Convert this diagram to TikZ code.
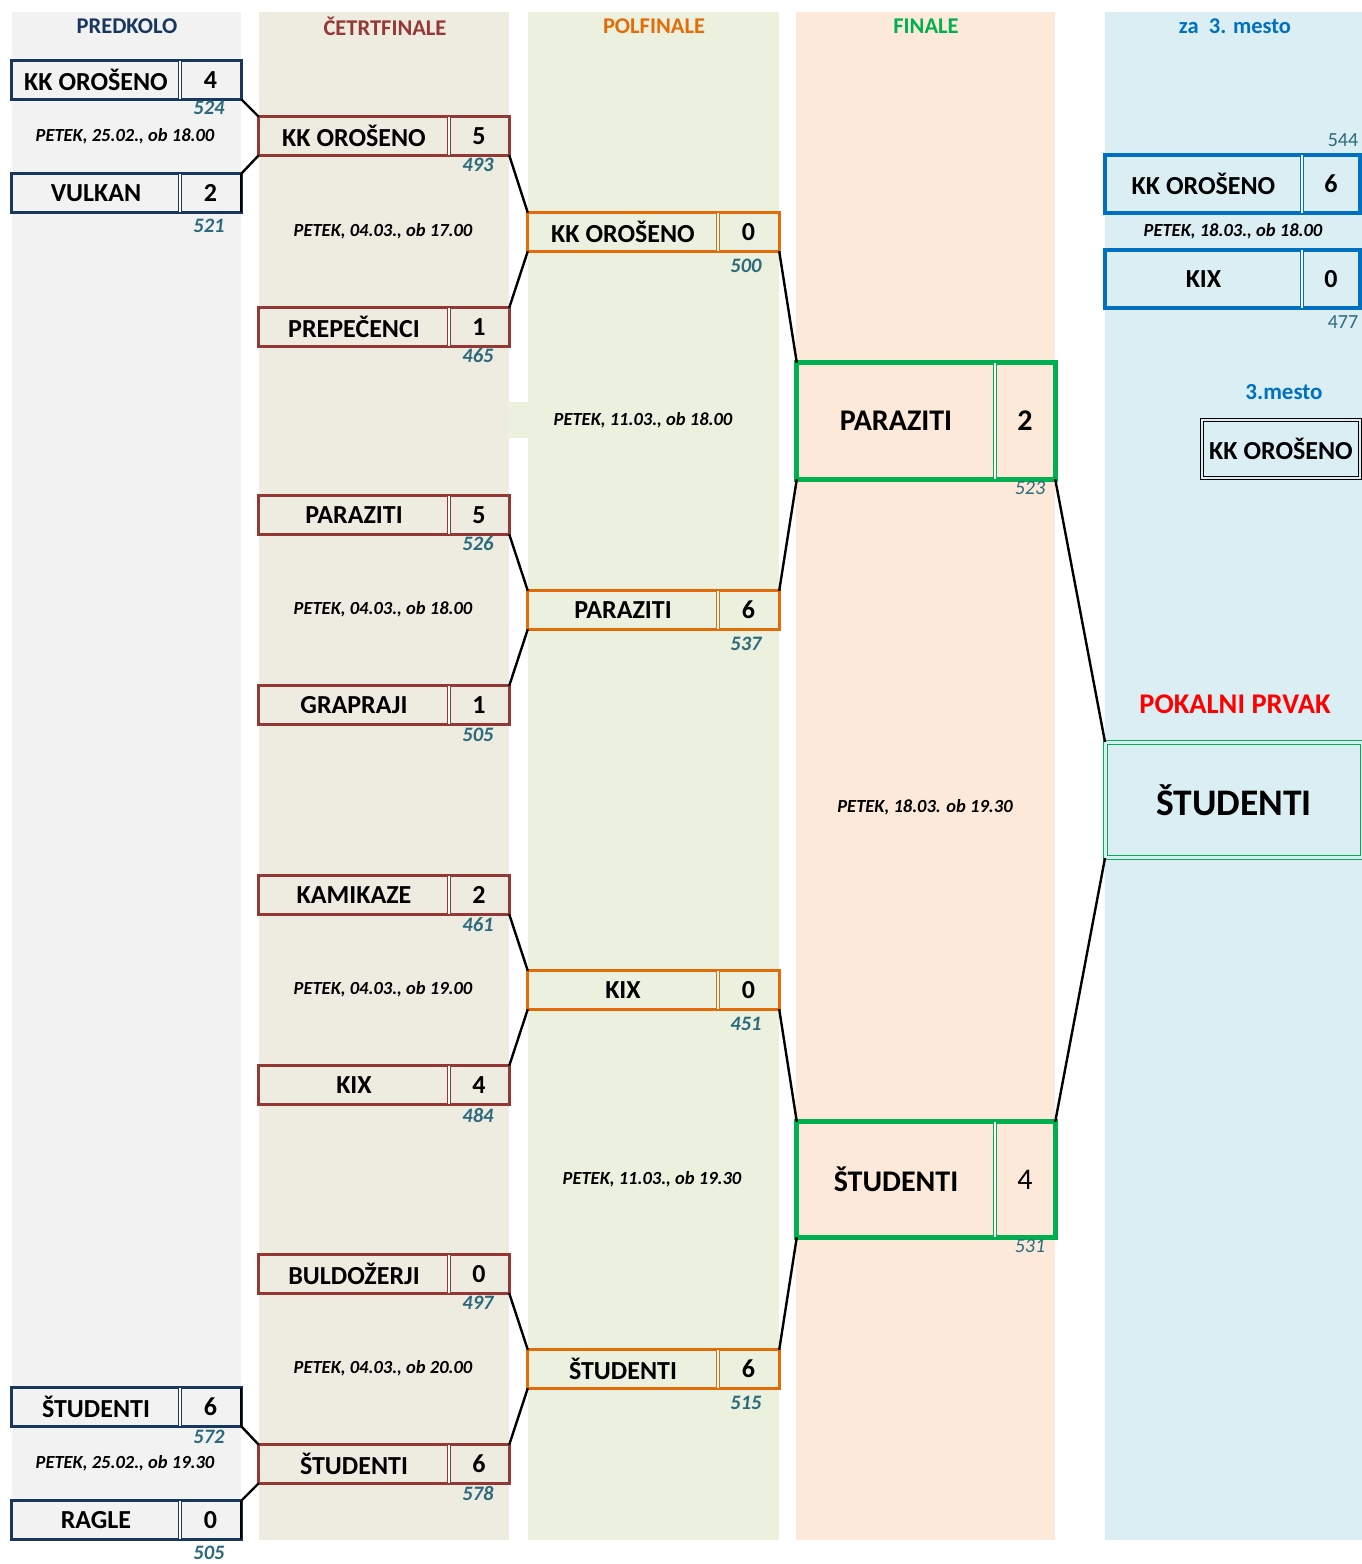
\documentclass[tikz,border=0pt]{standalone}
\usepackage{fontspec}
\setmainfont{Carlito}
\definecolor{cgray}{HTML}{F2F2F2}
\definecolor{cbeige}{HTML}{EEECE1}
\definecolor{cgreenbg}{HTML}{EBF1DE}
\definecolor{cpeach}{HTML}{FDE9D9}
\definecolor{cblue}{HTML}{DAEEF3}
\definecolor{navy}{HTML}{17375E}
\definecolor{dred}{HTML}{953735}
\definecolor{orng}{HTML}{E36C09}
\definecolor{grn}{HTML}{00B050}
\definecolor{blu}{HTML}{0070C0}
\definecolor{teal}{HTML}{2B6A7C}
\newcommand\fs[1]{\fontsize{#1}{#1}\selectfont}
\newcommand\tbox[9]{%
 \node[cell, minimum width={#4-#3}, minimum height=#7] (#1) at ({(#3+#4)/2},{#6+#7/2}) {#8};
 \node[cell, minimum width={#5-#4}, minimum height=#7] (#1s) at ({(#4+#5)/2},{#6+#7/2}) {#9};
 \draw[#2] (#1.north west) rectangle (#1s.south east);
 \draw[#2, line width=0.8pt, double=white, double distance=2pt] (#1.north east) -- (#1.south east);
}
\begin{document}
\begin{tikzpicture}[x=1pt,y=-1pt,
  cell/.style={inner sep=0pt, font=\bfseries\fs{26}},
  bnavy/.style={draw=navy, line width=3pt},
  bred/.style={draw=dred, line width=3pt},
  borng/.style={draw=orng, line width=3pt},
  bgrn/.style={draw=grn, line width=5pt},
  bblu/.style={draw=blu, line width=4.5pt},
  pts/.style={text=teal, font=\bfseries\itshape\fs{20.5}},
  ptsn/.style={text=teal, font=\itshape\fs{20}},
  date/.style={font=\bfseries\itshape\fs{18.5}},
  head/.style={font=\bfseries\fs{22.5}},
  conn/.style={draw=black, line width=2.4pt}]
\useasboundingbox (0,0) rectangle (1362,1564);
% column backgrounds
\fill[cgray] (12,12) rectangle (241,1540);
\fill[cbeige] (259,12) rectangle (509,1540);
\fill[cgreenbg] (528,12) rectangle (779,1540);
\fill[cgreenbg] (509,402) rectangle (528,438);
\fill[cpeach] (796,12) rectangle (1055,1540);
\fill[cblue] (1105,12) rectangle (1362,1540);
% headers
\node[head, text=navy] (h1) at (127,26) {PREDKOLO};
\node[head, text=dred] (h2) at (385,26) {ČETRTFINALE};
\node[head, text=orng] (h3) at (654,26) {POLFINALE};
\node[head, text=grn] (h4) at (926,26) {FINALE};
\node[head, text=blu] (h5) at (1235,26) {za\ \ 3. mesto};
% predkolo
\tbox{pa}{bnavy}{12}{180}{241}{61}{38}{KK OROŠENO}{4}
\tbox{pb}{bnavy}{12}{180}{241}{174}{38}{VULKAN}{2}
\tbox{pc}{bnavy}{12}{180}{241}{1388}{38}{ŠTUDENTI}{6}
\tbox{pd}{bnavy}{12}{180}{241}{1501}{38}{RAGLE}{0}
\draw[line width=2.5pt] (pbs.north east) -- (pbs.south east);
\draw[line width=2.5pt] (pcs.north east) -- (pcs.south east);
\draw[line width=2.5pt] (pds.north east) -- (pds.south east);
\node[pts] (lpa) at (209,108) {524};
\node[pts] (lpb) at (209,226) {521};
\node[pts] (lpc) at (209,1437) {572};
\node[pts] (lpd) at (209,1553) {505};
\node[date] (dp1) at (125,136) {PETEK, 25.02., ob 18.00};
\node[date] (dp2) at (125,1463) {PETEK, 25.02., ob 19.30};
% cetrtfinale
\tbox{q1}{bred}{259}{449}{509}{117}{38}{KK OROŠENO}{5}
\tbox{q2}{bred}{259}{449}{509}{308}{38}{PREPEČENCI}{1}
\tbox{q3}{bred}{259}{449}{509}{496}{38}{PARAZITI}{5}
\tbox{q4}{bred}{259}{449}{509}{686}{38}{GRAPRAJI}{1}
\tbox{q5}{bred}{259}{449}{509}{876}{38}{KAMIKAZE}{2}
\tbox{q6}{bred}{259}{449}{509}{1066}{38}{KIX}{4}
\tbox{q7}{bred}{259}{449}{509}{1255}{38}{BULDOŽERJI}{0}
\tbox{q8}{bred}{259}{449}{509}{1445}{38}{ŠTUDENTI}{6}
\node[pts] (lq1) at (478,165) {493};
\node[pts] (lq2) at (478,356) {465};
\node[pts] (lq3) at (478,544) {526};
\node[pts] (lq4) at (478,735) {505};
\node[pts] (lq5) at (478,925) {461};
\node[pts] (lq6) at (478,1115) {484};
\node[pts] (lq7) at (478,1303) {497};
\node[pts] (lq8) at (478,1493) {578};
\node[date] (dq1) at (383,231) {PETEK, 04.03., ob 17.00};
\node[date] (dq2) at (383,609) {PETEK, 04.03., ob 18.00};
\node[date] (dq3) at (383,989) {PETEK, 04.03., ob 19.00};
\node[date] (dq4) at (383,1368) {PETEK, 04.03., ob 20.00};
% polfinale
\tbox{r1}{borng}{528}{718}{779}{213}{38}{KK OROŠENO}{0}
\tbox{r2}{borng}{528}{718}{779}{591}{38}{PARAZITI}{6}
\tbox{r3}{borng}{528}{718}{779}{971}{38}{KIX}{0}
\tbox{r4}{borng}{528}{718}{779}{1350}{38}{ŠTUDENTI}{6}
\node[pts] (lr1) at (746,266) {500};
\node[pts] (lr2) at (746,644) {537};
\node[pts] (lr3) at (746,1024) {451};
\node[pts] (lr4) at (746,1403) {515};
\node[date] (dr1) at (643,420) {PETEK, 11.03., ob 18.00};
\node[date] (dr2) at (652,1179) {PETEK, 11.03., ob 19.30};
% finale
\tbox{f1}{bgrn}{797}{995}{1055}{363}{116}{\fs{30}PARAZITI}{\fs{30}2}
\tbox{f2}{bgrn}{797}{995}{1055}{1122}{115}{\fs{30}ŠTUDENTI}{\fs{30}\mdseries 4}
\node[ptsn] (lf1) at (1030,488) {523};
\node[ptsn] (lf2) at (1030,1246) {531};
\node[date] (df) at (925,807) {PETEK, 18.03. ob 19.30};
% 3rd place
\tbox{t1}{bblu}{1105}{1302}{1360}{155}{58}{KK OROŠENO}{6}
\tbox{t2}{bblu}{1105}{1302}{1360}{250}{58}{KIX}{0}
\node[text=teal, font=\fs{20}] (lt1) at (1343,140) {544};
\node[text=teal, font=\fs{20}] (lt2) at (1343,322) {477};
\node[date] (dt) at (1233,231) {PETEK, 18.03., ob 18.00};
\node[font=\bfseries\fs{23}, text=blu] (m3) at (1284,392) {3.mesto};
\node[cell, draw=black, line width=0.9pt, double=cblue, double distance=2.2pt,
  minimum width=158, minimum height=58] (tp) at (1281,449) {KK OROŠENO};
% champion
\node[font=\bfseries\fs{28.5}, text=red] (pp) at (1235,704) {POKALNI PRVAK};
\node[cell, draw=grn, line width=1pt, double=cblue, double distance=2.5pt,
  minimum width=257, minimum height=115, font=\bfseries\fs{37.5}] (ch) at (1234,800) {ŠTUDENTI};
% connectors
\draw[conn] (pas.south east) -- (q1.north west);
\draw[conn] (pbs.north east) -- (q1.south west);
\draw[conn] (pcs.south east) -- (q8.north west);
\draw[conn] (pds.north east) -- (q8.south west);
\draw[conn] (q1s.south east) -- (r1.north west);
\draw[conn] (q2s.north east) -- (r1.south west);
\draw[conn] (q3s.south east) -- (r2.north west);
\draw[conn] (q4s.north east) -- (r2.south west);
\draw[conn] (q5s.south east) -- (r3.north west);
\draw[conn] (q6s.north east) -- (r3.south west);
\draw[conn] (q7s.south east) -- (r4.north west);
\draw[conn] (q8s.north east) -- (r4.south west);
\draw[conn] (r1s.south east) -- (f1.north west);
\draw[conn] (r2s.north east) -- (f1.south west);
\draw[conn] (r3s.south east) -- (f2.north west);
\draw[conn] (r4s.north east) -- (f2.south west);
\draw[conn] (f1s.south east) -- (ch.north west);
\draw[conn] (f2s.north east) -- (ch.south west);
\end{tikzpicture}
\end{document}
